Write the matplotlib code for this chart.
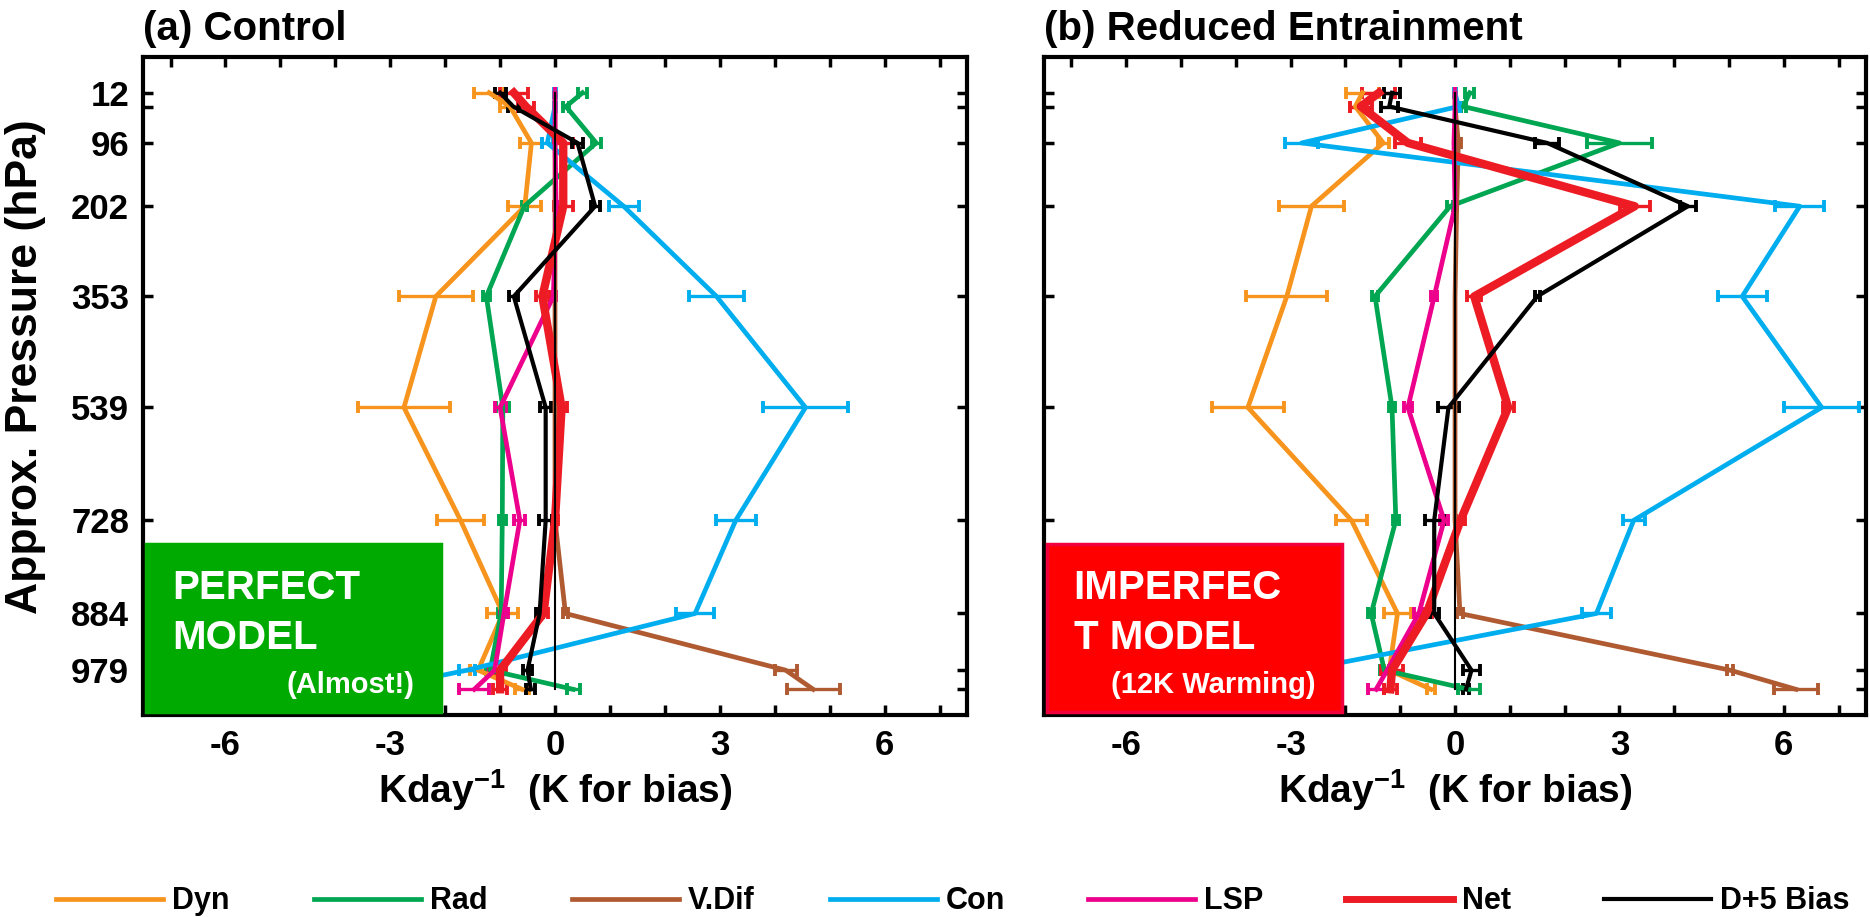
import numpy as np
import matplotlib
matplotlib.use("Agg")
import matplotlib.pyplot as plt
from matplotlib.lines import Line2D
from matplotlib.patches import Rectangle

plt.rcParams["font.family"] = ["Liberation Sans", "DejaVu Sans"]
plt.rcParams["font.weight"] = "bold"
plt.rcParams["axes.labelweight"] = "bold"
plt.rcParams["mathtext.fontset"] = "custom"
plt.rcParams["mathtext.rm"] = "Liberation Sans:bold"
plt.rcParams["mathtext.bf"] = "Liberation Sans:bold"
plt.rcParams["mathtext.it"] = "Liberation Sans:bold"

# model levels (approx. pressure, hPa); two of them carry no label
levels = [12, 35, 96, 202, 353, 539, 728, 884, 979, 1011]
level_labels = ["12", "", "96", "202", "353", "539", "728", "884", "979", ""]

names = ["Dyn", "Rad", "V.Dif", "Con", "LSP", "Net", "D+5 Bias"]
colors = ["#F7941D", "#00A651", "#B05A32", "#00AEEF", "#EC008C", "#ED1C24", "black"]
widths = [3.4, 3.4, 3.4, 3.4, 3.4, 6.0, 3.0]

# (a) Control
dyn_a  = [-1.20, -0.82, -0.43, -0.55, -2.17, -2.75, -1.72, -0.95, -1.40, -0.60]
rad_a  = [0.50, 0.20, 0.75, -0.56, -1.25, -0.95, -0.96, -0.98, -1.18, 0.33]
vdif_a = [0.0, 0.0, 0.0, 0.0, 0.0, 0.0, 0.0, 0.19, 4.20, 4.70]
con_a  = [0.0, 0.0, -0.14, 1.25, 2.94, 4.56, 3.29, 2.55, -1.60, -3.30]
lsp_a  = [0.0, 0.0, 0.0, 0.02, -0.03, -1.00, -0.64, -0.93, -1.10, -1.47]
net_a  = [-0.75, -0.53, 0.15, 0.15, -0.23, 0.12, 0.0, -0.21, -1.00, -1.00]
bias_a = [-1.00, -0.76, 0.41, 0.73, -0.75, -0.17, -0.17, -0.28, -0.50, -0.44]

dyn_a_err  = [0.28, 0.18, 0.20, 0.30, 0.67, 0.83, 0.42, 0.28, 0.15, 0.12]
rad_a_err  = [0.08, 0.05, 0.08, 0.05, 0.06, 0.12, 0.06, 0.06, 0.08, 0.12]
vdif_a_err = [0.0, 0.0, 0.0, 0.0, 0.0, 0.0, 0.0, 0.05, 0.20, 0.48]
con_a_err  = [0.02, 0.02, 0.10, 0.27, 0.50, 0.78, 0.36, 0.35, 0.15, 0.30]
lsp_a_err  = [0.0, 0.0, 0.0, 0.02, 0.05, 0.10, 0.10, 0.08, 0.10, 0.27]
net_a_err  = [0.25, 0.15, 0.17, 0.17, 0.12, 0.10, 0.05, 0.08, 0.10, 0.12]
bias_a_err = [0.10, 0.10, 0.10, 0.08, 0.08, 0.10, 0.12, 0.06, 0.08, 0.08]

# (b) Reduced Entrainment
dyn_b  = [-1.69, -1.82, -1.31, -2.62, -3.07, -3.78, -1.89, -1.05, -1.20, -0.44]
rad_b  = [0.27, 0.15, 3.00, -0.09, -1.46, -1.15, -1.08, -1.53, -1.29, 0.25]
vdif_b = [0.0, 0.0, 0.06, 0.03, 0.0, 0.0, 0.0, 0.09, 5.02, 6.22]
con_b  = [0.0, 0.06, -2.80, 6.29, 5.24, 6.69, 3.26, 2.58, -2.80, -3.50]
lsp_b  = [0.0, 0.0, -0.02, 0.0, -0.38, -0.86, -0.20, -0.66, -1.24, -1.44]
net_b  = [-1.39, -1.72, -0.86, 3.28, 0.35, 0.97, 0.10, -0.52, -1.15, -1.18]
bias_b = [-1.15, -1.20, 1.68, 4.25, 1.50, -0.12, -0.38, -0.38, 0.30, 0.20]

dyn_b_err  = [0.30, 0.10, 0.10, 0.60, 0.74, 0.66, 0.28, 0.24, 0.10, 0.08]
rad_b_err  = [0.08, 0.05, 0.60, 0.05, 0.05, 0.05, 0.05, 0.05, 0.08, 0.20]
vdif_b_err = [0.0, 0.0, 0.05, 0.0, 0.0, 0.0, 0.0, 0.05, 0.06, 0.40]
con_b_err  = [0.02, 0.03, 0.30, 0.45, 0.45, 0.68, 0.20, 0.27, 0.20, 0.20]
lsp_b_err  = [0.0, 0.0, 0.0, 0.0, 0.05, 0.08, 0.08, 0.08, 0.08, 0.14]
net_b_err  = [0.30, 0.20, 0.23, 0.27, 0.13, 0.10, 0.08, 0.10, 0.20, 0.12]
bias_b_err = [0.15, 0.15, 0.22, 0.15, 0.05, 0.20, 0.17, 0.08, 0.15, 0.05]


def draw_panel(ax, series, errors, title, box_color, edge_color, line1, line2, sub):
    for name, col, lw, x, e in zip(names, colors, widths, series, errors):
        ax.errorbar(x, levels, xerr=e, color=col, lw=lw, elinewidth=2.4,
                    capsize=4, capthick=2.8, zorder=3)
    ax.plot([0, 0], [levels[0], levels[-1]], color="black", lw=1.5, zorder=6)

    ax.set_xlim(-7.5, 7.5)
    ax.set_ylim(1054, -48)
    ax.set_xticks(np.arange(-7, 8, 1))
    ax.set_xticklabels([str(t) if t % 3 == 0 else "" for t in range(-7, 8)])
    ax.set_yticks(levels)
    ax.tick_params(direction="in", top=True, right=True, length=7, width=2.5,
                   labelsize=25, pad=10)
    for s in ax.spines.values():
        s.set_linewidth(3)
    ax.set_xlabel("Kday$^{-1}$  (K for bias)", fontsize=28, fontweight="bold", labelpad=4)
    ax.set_title(title, loc="left", fontsize=29, fontweight="bold", pad=12)

    ax.add_patch(Rectangle((0.004, 0.004), 0.358, 0.256, transform=ax.transAxes,
                           facecolor=box_color, edgecolor=edge_color, lw=2.5, zorder=10))
    ax.text(0.036, 0.193, line1, transform=ax.transAxes, color="white",
            fontsize=29, va="center", ha="left", zorder=11)
    ax.text(0.036, 0.117, line2, transform=ax.transAxes, color="white",
            fontsize=29, va="center", ha="left", zorder=11)
    ax.text(0.33, 0.046, sub, transform=ax.transAxes, color="white",
            fontsize=21, va="center", ha="right", zorder=11)


fig = plt.figure(figsize=(18.7, 9.17), dpi=100)
ax_a = fig.add_axes([0.0765, 0.2203, 0.4406, 0.7176])
ax_b = fig.add_axes([0.5583, 0.2203, 0.4396, 0.7176])

draw_panel(ax_a, [dyn_a, rad_a, vdif_a, con_a, lsp_a, net_a, bias_a],
           [dyn_a_err, rad_a_err, vdif_a_err, con_a_err, lsp_a_err, net_a_err, bias_a_err],
           "(a) Control", "#00AA00", "#00AA00", "PERFECT", "MODEL", "(Almost!)")
draw_panel(ax_b, [dyn_b, rad_b, vdif_b, con_b, lsp_b, net_b, bias_b],
           [dyn_b_err, rad_b_err, vdif_b_err, con_b_err, lsp_b_err, net_b_err, bias_b_err],
           "(b) Reduced Entrainment", "#FF0000", "#F0003C", "IMPERFEC", "T MODEL",
           "(12K Warming)")

ax_a.set_yticklabels(level_labels)
ax_b.set_yticklabels([])
ax_a.set_ylabel("Approx. Pressure (hPa)", fontsize=32, fontweight="bold")
ax_a.yaxis.set_label_coords(-0.118, 0.53)

# one-row legend with evenly spaced slots
for i, (name, col, lw) in enumerate(zip(names, colors, widths)):
    fig.legend(handles=[Line2D([], [], color=col, lw=min(lw, 5.0))], labels=[name],
               loc="center left", bbox_to_anchor=((56 + 258 * i) / 1870, 0.017),
               frameon=False, fontsize=22, handlelength=3.5, handletextpad=0.3,
               borderpad=0, borderaxespad=0)

fig.savefig("out.png", dpi=100)
